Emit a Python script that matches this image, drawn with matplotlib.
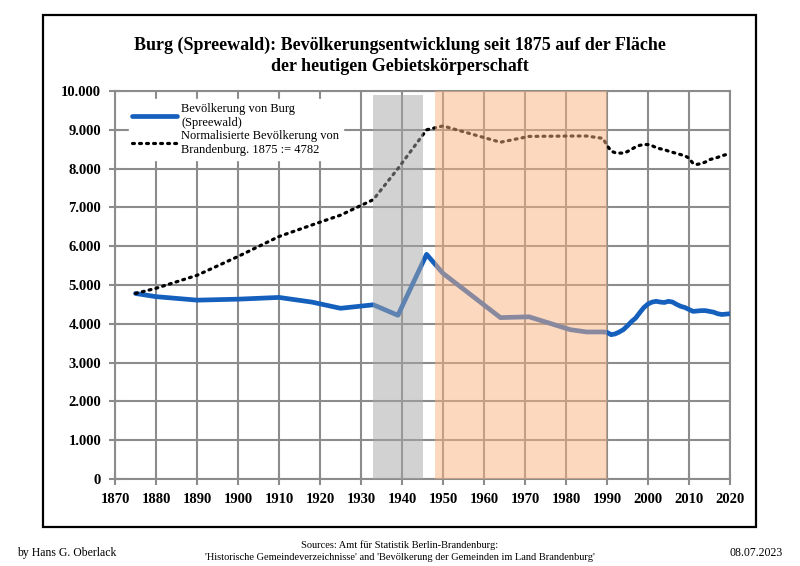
import matplotlib

matplotlib.use("Agg")
import matplotlib.pyplot as plt  # noqa: E402
from matplotlib.patches import Rectangle  # noqa: E402
from matplotlib.ticker import FuncFormatter  # noqa: E402

plt.rcParams["font.family"] = ["Liberation Serif", "DejaVu Serif"]

# Population of Burg (Spreewald)
burg_years = [1875, 1880, 1890, 1900, 1910, 1918, 1925, 1933, 1939, 1946, 1950,
              1964, 1971, 1981, 1985, 1989, 1990, 1991, 1992, 1993, 1994, 1995,
              1996, 1997, 1998, 1999, 2000, 2001, 2002, 2003, 2004, 2005, 2006,
              2007, 2008, 2009, 2010, 2011, 2012, 2013, 2014, 2015, 2016, 2017,
              2018, 2019, 2020]
burg_pop = [4782, 4700, 4610, 4635, 4680, 4560, 4400, 4490, 4220, 5790, 5300,
            4160, 4180, 3850, 3790, 3790, 3780, 3720, 3740, 3790, 3850, 3950,
            4060, 4150, 4290, 4420, 4510, 4560, 4580, 4560, 4550, 4580, 4560,
            4500, 4450, 4420, 4370, 4320, 4330, 4340, 4340, 4320, 4300, 4260,
            4240, 4250, 4260]

# Normalised population of Brandenburg (1875 := 4782)
bb_years = [1875, 1880, 1890, 1900, 1910, 1920, 1925, 1933, 1939, 1946, 1950,
            1964, 1971, 1981, 1985, 1989, 1990, 1991, 1992, 1993, 1994, 1995,
            1996, 1997, 1998, 1999, 2000, 2001, 2002, 2003, 2004, 2005, 2006,
            2007, 2008, 2009, 2010, 2011, 2012, 2013, 2014, 2015, 2016, 2017,
            2018, 2019, 2020]
bb_pop = [4782, 4915, 5250, 5735, 6250, 6620, 6800, 7200, 8000, 9000, 9100,
          8680, 8830, 8840, 8840, 8780, 8600, 8450, 8410, 8400, 8400, 8440,
          8500, 8560, 8600, 8620, 8620, 8590, 8540, 8510, 8490, 8450, 8420,
          8390, 8360, 8330, 8270, 8130, 8110, 8130, 8170, 8230, 8260, 8290,
          8330, 8360, 8380]

nazi_period = (1933, 1945)
gdr_period = (1948, 1990)

years_ticks = list(range(1870, 2021, 10))
pop_ticks = list(range(0, 10001, 1000))

BLUE = "#1560bd"
GRID = "#8c8c8c"

fig = plt.figure(figsize=(8, 5.66), dpi=100)
ax = fig.add_axes([0.14375, 0.1537, 0.76875, 0.6855])

ax.plot(burg_years, burg_pop, color=BLUE, lw=3.4, solid_capstyle="round",
        solid_joinstyle="round", label="Bevölkerung von Burg\n(Spreewald)", zorder=3)
ax.plot(bb_years, bb_pop, color="black", lw=2.3, linestyle=(0, (0.6, 1.6)),
        dash_capstyle="round", label="Normalisierte Bevölkerung von\nBrandenburg. 1875 := 4782",
        zorder=3)

ax.axvspan(*nazi_period, ymin=0, ymax=0.99, color="#a7a7a7", alpha=0.5, lw=0, zorder=4)
ax.axvspan(*gdr_period, color="#fbb381", alpha=0.5, lw=0, zorder=4)

ax.set_xlim(1870, 2020)
ax.set_ylim(0, 10000)
ax.set_xticks(years_ticks)
ax.set_yticks(pop_ticks)
ax.yaxis.set_major_formatter(FuncFormatter(lambda v, p: f"{int(v):,}".replace(",", ".")))
ax.grid(True, color=GRID, lw=1.5, zorder=1)
ax.set_axisbelow(True)
for s in ax.spines.values():
    s.set_color(GRID)
    s.set_linewidth(1.5)
ax.tick_params(axis="both", direction="inout", length=8, width=1.5, color=GRID,
               labelsize=10.5, pad=6)
for lab in ax.get_xticklabels() + ax.get_yticklabels():
    lab.set_fontweight("bold")

leg = ax.legend(loc="upper left", bbox_to_anchor=(0.012, 0.995), frameon=True,
                fontsize=9, handlelength=3.6, handletextpad=0.3, labelspacing=0.1,
                borderpad=0.3, fancybox=False)
leg.get_frame().set_edgecolor("white")
leg.get_frame().set_facecolor("white")
leg.get_frame().set_alpha(1)
leg.set_zorder(5)

fig.text(0.5, 1 - 56 / 566, "Burg (Spreewald): Bevölkerungsentwicklung seit 1875 auf der Fläche\n"
         "der heutigen Gebietskörperschaft", ha="center", va="center",
         fontsize=13, fontweight="bold", linespacing=1.3)

fig.patches.append(Rectangle((43 / 800, 1 - 527 / 566), 713 / 800, 512 / 566,
                             transform=fig.transFigure, fill=False, ec="black", lw=1.6))

fig.text(17 / 800, 1 - 553 / 566, "by Hans G. Oberlack", fontsize=8.5, va="center")
fig.text(0.5, 1 - 551 / 566, "Sources: Amt für Statistik Berlin-Brandenburg:\n"
         "'Historische Gemeindeverzeichnisse' and 'Bevölkerung der Gemeinden im Land Brandenburg'",
         fontsize=7.5, ha="center", va="center", linespacing=1.4)
fig.text(783 / 800, 1 - 553 / 566, "08.07.2023", fontsize=8.5, ha="right", va="center")

fig.savefig("out.png", dpi=100)
